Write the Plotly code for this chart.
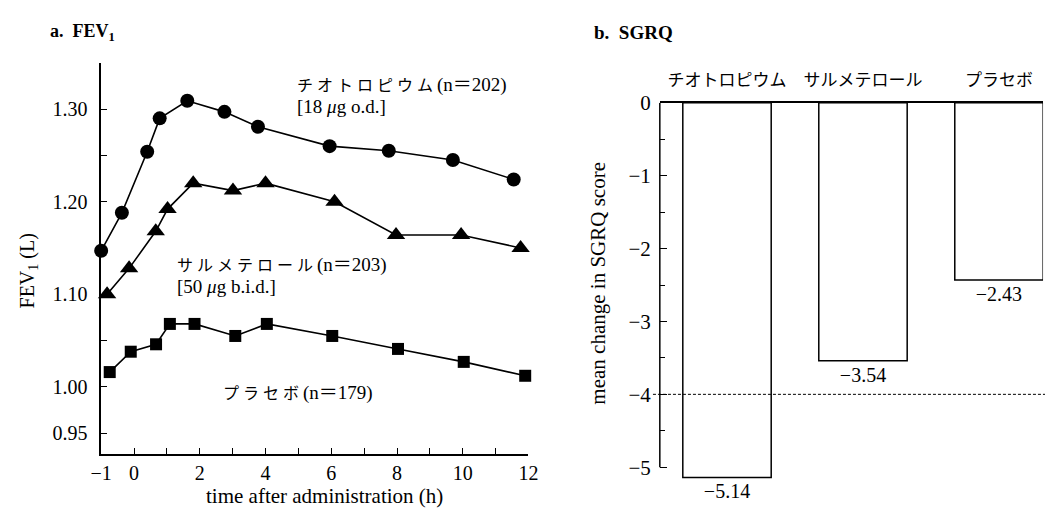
import plotly.graph_objects as go

# ---------------- data ----------------
# Panel a: FEV1 (L) versus time after administration (h)
times_tio = [-1.0, -0.37, 0.4, 0.78, 1.62, 2.75, 3.77, 5.95, 7.75, 9.7, 11.55]
fev_tio = [1.147, 1.188, 1.254, 1.290, 1.309, 1.297, 1.281, 1.260, 1.255, 1.245, 1.224]

times_sal = [-0.82, -0.15, 0.66, 1.02, 1.8, 3.01, 4.0, 6.1, 7.97, 9.95, 11.76]
fev_sal = [1.100, 1.128, 1.168, 1.192, 1.220, 1.212, 1.220, 1.200, 1.164, 1.164, 1.150]

times_pla = [-0.74, -0.1, 0.67, 1.09, 1.84, 3.08, 4.04, 6.03, 8.03, 10.03, 11.9]
fev_pla = [1.016, 1.038, 1.046, 1.068, 1.068, 1.055, 1.068, 1.055, 1.041, 1.027, 1.012]

x_tickvals = [-1, 0, 2, 4, 6, 8, 10, 12]
x_ticktext = ["\u22121", "0", "2", "4", "6", "8", "10", "12"]
x_minorvals = [1, 3, 5, 7, 9, 11]
y_tickvals = [0.95, 1.00, 1.10, 1.20, 1.30]
y_ticktext = ["0.95", "1.00", "1.10", "1.20", "1.30"]
y_minorvals = [1.05, 1.15, 1.25, 1.35]

# Panel b: mean change in SGRQ score
sgrq_groups = ["チオトロピウム", "サルメテロール", "プラセボ"]
sgrq_change = [-5.14, -3.54, -2.43]
sgrq_labels = ["\u22125.14", "\u22123.54", "\u22122.43"]
sgrq_ref = -4
y2_tickvals = [-5, -4, -3, -2, -1, 0]
y2_minorvals = [-4.5, -3.5, -2.5, -1.5, -0.5]

# ---------------- layout helpers ----------------
W, H = 1055, 517
FONT = "Liberation Serif, 'Noto Sans CJK JP', serif"


def px(x):
    return x / W


def py(y):
    return 1 - y / H


fig = go.Figure()

line_style = dict(color="black", width=1.6)
fig.add_trace(go.Scatter(x=times_tio, y=fev_tio, mode="lines+markers",
                         marker=dict(symbol="circle", size=14, color="black"),
                         line=line_style, xaxis="x", yaxis="y", cliponaxis=False))
fig.add_trace(go.Scatter(x=times_sal, y=fev_sal, mode="lines+markers",
                         marker=dict(symbol="triangle-up", size=16, color="black"),
                         line=line_style, xaxis="x", yaxis="y", cliponaxis=False))
fig.add_trace(go.Scatter(x=times_pla, y=fev_pla, mode="lines+markers",
                         marker=dict(symbol="square", size=12, color="black"),
                         line=line_style, xaxis="x", yaxis="y", cliponaxis=False))

fig.add_trace(go.Bar(x=sgrq_groups, y=sgrq_change, width=0.65,
                     marker=dict(color="white", line=dict(color="black", width=1.5)),
                     text=sgrq_labels, textposition="outside", constraintext="none",
                     textfont=dict(family=FONT, size=20, color="black"),
                     xaxis="x2", yaxis="y2", cliponaxis=False))

axis_common = dict(showgrid=False, zeroline=False, linecolor="black", linewidth=1.5,
                   tickcolor="black", tickwidth=1.2)

fig.update_layout(
    width=W, height=H,
    margin=dict(l=0, r=0, t=0, b=0),
    paper_bgcolor="white", plot_bgcolor="white",
    showlegend=False,
    font=dict(family=FONT, color="black"),
    xaxis=dict(domain=[px(92), px(528)], range=[-1, 12], anchor="y",
               showline=True, ticks="inside", ticklen=7,
               tickvals=x_tickvals, ticktext=x_ticktext,
               minor=dict(tickvals=x_minorvals, ticks="inside", ticklen=7,
                          tickcolor="black", tickwidth=1.2),
               tickfont=dict(family=FONT, size=20, color="black"), **axis_common),
    yaxis=dict(domain=[py(453), py(52)], range=[0.927, 1.35], anchor="x",
               showline=True, ticks="inside", ticklen=6, ticklabelstandoff=8,
               tickvals=y_tickvals, ticktext=y_ticktext,
               minor=dict(tickvals=y_minorvals, ticks="inside", ticklen=6,
                          tickcolor="black", tickwidth=1.2),
               tickfont=dict(family=FONT, size=20, color="black"), **axis_common),
    xaxis2=dict(domain=[px(662), px(1053)], range=[-0.494, 2.324], anchor="y2",
                type="category", side="top", showline=True, ticks="",
                ticklabelstandoff=8,
                tickfont=dict(family=FONT, size=17, color="black"), **axis_common),
    yaxis2=dict(domain=[py(499.6), py(93)], range=[-5.45, 0], anchor="x2",
                showline=False, ticks="inside", ticklen=7, ticklabelstandoff=8,
                tickvals=y2_tickvals,
                minor=dict(tickvals=y2_minorvals, ticks="inside", ticklen=5,
                           tickcolor="black", tickwidth=1.2),
                tickfont=dict(family=FONT, size=21, color="black"), **axis_common),
)

# y-axis line of panel b (stops at -5 like the original)
fig.add_shape(type="line", xref="x2 domain", yref="y2", x0=0, x1=0, y0=-5, y1=0,
              line=dict(color="black", width=1.5))
# dashed reference line at -4
fig.add_shape(type="line", xref="paper", yref="y2", x0=px(655), x1=1, y0=sgrq_ref, y1=sgrq_ref,
              line=dict(color="black", width=1, dash="3px,2px"), layer="above")


def note(text, x, y, size=16, xanchor="left", angle=0, bold=False):
    if bold:
        text = "<b>" + text + "</b>"
    fig.add_annotation(text=text, x=px(x), y=py(y), xref="paper", yref="paper",
                       xanchor=xanchor, yanchor="middle", showarrow=False, textangle=angle,
                       font=dict(family=FONT, size=size, color="black"))


def big(s):
    return '<span style="font-size:19px">' + s + '</span>'


note("a.  FEV<sub>1</sub>", 38, 21, size=18, bold=True)
note("b.  SGRQ", 593, 21, size=19, bold=True)

note("チ オ ト ロ ピ ウ ム " + big("(n＝202)"), 290, 75, size=16)
note("[18 <i>μ</i>g o.d.]", 290, 97, size=19)
note("サ ル メ テ ロ ー ル " + big("(n＝203)"), 167, 259, size=16)
note("[50 <i>μ</i>g b.i.d.]", 167, 281, size=19)
note("プ ラ セ ボ " + big("(n＝179)"), 214, 390, size=16)

note("FEV<sub>1</sub> (L)", 18, 265, size=20, xanchor="center", angle=-90)
note("time after administration (h)", 320, 496, size=21, xanchor="center")
note("mean change in SGRQ score", 598, 278, size=21, xanchor="center", angle=-90)

fig.write_html("out.html")
